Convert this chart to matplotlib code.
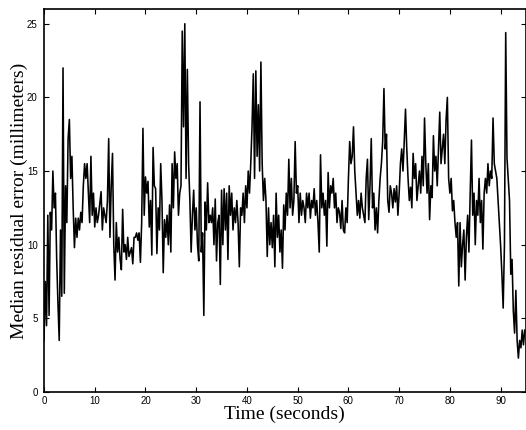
import matplotlib
matplotlib.use('Agg')
import matplotlib.pyplot as plt
import numpy as np

# median residual error, every 0.25 s (one row per second)
dt = 0.25
err_mm = [
    3.5, 7.5, 4.5, 12.0,
    5.2, 12.2, 11.0, 15.0,
    12.5, 13.5, 9.0, 6.0,
    3.5, 11.0, 6.5, 22.0,
    6.7, 14.0, 11.5, 17.2,
    18.5, 14.5, 16.0, 12.5,
    9.8, 11.8, 10.5, 11.8,
    11.0, 12.2, 11.5, 14.0,
    15.5, 14.5, 15.5, 13.5,
    11.5, 16.0, 12.0, 13.5,
    11.2, 12.5, 11.5, 12.0,
    12.8, 13.6, 11.0, 12.5,
    12.0, 11.5, 13.0, 17.2,
    10.5, 14.0, 16.2, 10.0,
    7.6, 11.5, 9.5, 10.5,
    9.0, 8.3, 12.4, 9.5,
    10.0, 9.0, 10.5, 9.2,
    9.5, 9.8, 8.7, 10.5,
    10.5, 10.8, 10.3, 10.8,
    8.8, 11.5, 17.9, 12.0,
    14.6, 13.5, 14.3, 11.2,
    13.0, 9.3, 16.6, 14.0,
    13.8, 9.4, 12.5, 11.0,
    15.5, 13.0, 8.1, 11.7,
    10.5, 12.0, 10.0, 12.7,
    9.5, 15.5, 12.5, 16.3,
    14.5, 15.5, 12.0, 13.5,
    14.0, 24.5, 18.0, 25.0,
    14.5, 21.9, 15.5, 13.0,
    9.5, 12.0, 13.7, 11.0,
    12.5, 10.0, 8.9, 19.7,
    9.5, 10.8, 5.2, 12.9,
    11.0, 14.2, 11.5, 12.0,
    11.5, 12.5, 10.0, 13.1,
    8.9, 11.5, 12.0, 7.3,
    13.7, 10.0, 13.8, 11.0,
    13.5, 9.0, 14.0, 12.0,
    13.5, 11.0, 12.5, 11.5,
    13.0, 11.5, 8.5, 12.5,
    12.0, 13.5, 11.5, 14.0,
    12.5, 15.0, 13.5, 15.5,
    18.0, 21.6, 14.5, 21.8,
    16.0, 19.5, 15.0, 22.4,
    15.5, 13.0, 14.5, 13.0,
    9.2, 12.5, 10.0, 11.5,
    9.8, 12.0, 8.5, 13.5,
    10.5, 12.0, 9.5, 11.0,
    8.4, 12.7, 11.0, 13.5,
    12.0, 15.8, 12.5, 14.5,
    12.0, 13.0, 17.0, 13.5,
    14.0, 11.5, 13.5, 12.0,
    13.0, 12.5, 11.5, 13.5,
    12.5, 13.5, 11.8, 13.0,
    12.5, 13.8, 12.0, 13.0,
    11.5, 9.5, 16.1, 12.5,
    13.5, 12.0, 13.0, 9.9,
    14.9, 12.5, 14.0, 13.5,
    14.5, 12.5, 13.5, 11.5,
    12.5, 12.2, 11.1, 13.0,
    11.0, 10.8, 12.5, 11.5,
    14.5, 17.0, 15.5, 16.0,
    18.0, 15.0, 13.5, 12.0,
    13.0, 11.8, 13.5, 12.5,
    12.0, 11.5, 14.5, 15.8,
    11.7, 14.0, 17.2, 12.5,
    13.5, 11.0, 12.5, 10.8,
    13.0, 14.5, 15.5, 17.0,
    20.6, 16.5, 17.5, 13.0,
    12.2, 14.0, 13.5, 12.5,
    13.8, 12.9, 14.0, 12.0,
    13.5, 15.5, 16.5, 15.0,
    17.0, 19.2, 16.5, 14.5,
    13.0, 13.9, 12.5, 16.2,
    14.5, 15.5, 13.0, 14.0,
    15.0, 13.5, 16.0, 14.0,
    18.6, 15.5, 13.5, 15.5,
    11.7, 14.0, 13.2, 17.4,
    15.0, 16.0, 14.0, 16.5,
    19.0, 15.5, 16.5, 17.5,
    15.5, 18.5, 20.0, 14.5,
    13.5, 14.5, 12.3, 13.0,
    11.5, 10.5, 11.5, 7.2,
    11.5, 8.5, 10.0, 11.0,
    7.6, 10.5, 12.0, 9.5,
    13.5, 17.1, 12.0, 13.5,
    10.0, 13.0, 12.0, 14.5,
    11.5, 13.0, 9.7, 13.5,
    14.5, 13.5, 15.5, 14.0,
    15.0, 14.5, 18.6, 15.5,
    15.0, 14.5, 13.0, 11.5,
    9.9, 8.0, 5.7, 10.0,
    24.4, 15.9, 14.5, 13.0,
    8.0, 9.0, 5.5, 4.0,
    6.9, 3.5, 2.3, 3.5,
    3.0, 4.2, 3.2, 4.2,
]
t = np.arange(len(err_mm)) * dt

fig = plt.figure(figsize=(5.26, 4.30), dpi=100)
ax = fig.add_axes([44 / 526, 38 / 430, 481.5 / 526, 383 / 430])
ax.plot(t, err_mm, color='black', linewidth=1.15)

ax.set_xlim(0, 94.9)
ax.set_ylim(0, 26)
ax.set_xticks(range(0, 91, 10))
ax.set_yticks(range(0, 26, 5))
ax.tick_params(direction='in', length=3.5, width=0.8, top=True, right=True,
               labelsize=7)
ax.tick_params(axis='x', pad=3)
ax.tick_params(axis='y', pad=4.5)
for lab in ax.get_xticklabels() + ax.get_yticklabels():
    lab.set_fontfamily('Liberation Sans')
for sp in ax.spines.values():
    sp.set_linewidth(1.2)

ax.set_xlabel('Time (seconds)', fontfamily='Liberation Serif', fontsize=14, labelpad=0)
ax.set_ylabel('Median residual error (millimeters)', fontfamily='Liberation Serif',
              fontsize=14, labelpad=-1)

fig.savefig('out.png', dpi=100)
